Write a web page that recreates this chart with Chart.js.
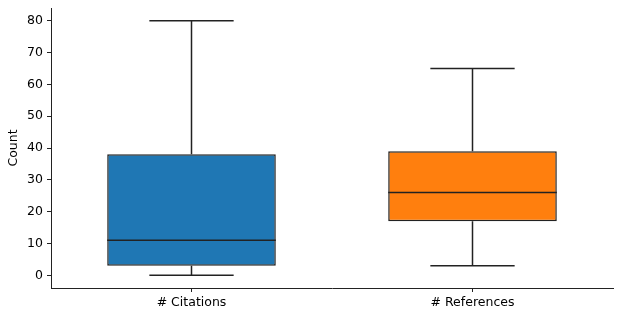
<!DOCTYPE html>
<html>
<head>
<meta charset="utf-8">
<script src="https://cdn.jsdelivr.net/npm/chart.js@4.4.0/dist/chart.umd.min.js"></script>
<style>
  html, body { margin: 0; padding: 0; background: #fff; }
  #box_canvas_wrap { width: 623px; height: 319px; }
</style>
</head>
<body>
<div id="box_canvas_wrap"><canvas id="box_canvas" width="623" height="319"></canvas></div>
<script>
// data
const categories = ["# Citations", "# References"];
const whiskerLow = [0, 3];
const q1 = [3, 17];
const median = [11, 26];
const q3 = [38, 39];
const whiskerHigh = [80, 65];
const boxColors = ["#1f77b4", "#ff7f0e"];
const yTicks = [0, 10, 20, 30, 40, 50, 60, 70, 80];

const lineColor = "#222";

// whiskers + median lines, drawn from the scales
const boxPlotLines = {
  id: 'boxPlotLines',
  afterDatasetsDraw(chart) {
    const ctx = chart.ctx;
    const y = chart.scales.y;
    const meta = chart.getDatasetMeta(0);
    ctx.save();
    ctx.strokeStyle = lineColor;
    ctx.lineWidth = 1.5;
    meta.data.forEach(function (bar, i) {
      const cx = bar.x;
      const half = bar.width / 2;
      const capHalf = half / 2;
      ctx.beginPath();
      // upper whisker
      ctx.moveTo(cx, y.getPixelForValue(q3[i]));
      ctx.lineTo(cx, y.getPixelForValue(whiskerHigh[i]));
      ctx.moveTo(cx - capHalf, y.getPixelForValue(whiskerHigh[i]));
      ctx.lineTo(cx + capHalf, y.getPixelForValue(whiskerHigh[i]));
      // lower whisker
      ctx.moveTo(cx, y.getPixelForValue(q1[i]));
      ctx.lineTo(cx, y.getPixelForValue(whiskerLow[i]));
      ctx.moveTo(cx - capHalf, y.getPixelForValue(whiskerLow[i]));
      ctx.lineTo(cx + capHalf, y.getPixelForValue(whiskerLow[i]));
      // median
      ctx.moveTo(cx - half, y.getPixelForValue(median[i]));
      ctx.lineTo(cx + half, y.getPixelForValue(median[i]));
      ctx.stroke();
    });
    ctx.restore();
  }
};

const font = { family: "'DejaVu Sans', sans-serif", size: 12.5 };

const box_ctx = document.getElementById('box_canvas').getContext('2d');
const box_chart = new Chart(box_ctx, {
  type: 'bar',
  data: {
    labels: categories,
    datasets: [
      {
        data: categories.map((c, i) => [q1[i], q3[i]]),
        backgroundColor: boxColors,
        borderColor: lineColor,
        borderWidth: 1.5,
        borderSkipped: false,
        barPercentage: 0.6,
        categoryPercentage: 1,
      },
    ],
  },
  options: {
    responsive: false,
    animation: false,
    layout: { padding: { top: 8, right: 10, left: 0, bottom: 0 } },
    plugins: {
      legend: { display: false },
      tooltip: { enabled: false },
    },
    scales: {
      x: {
        grid: { display: true, offset: false, drawOnChartArea: false, drawTicks: true, tickLength: 4, color: lineColor },
        border: { display: true, color: lineColor, width: 1 },
        ticks: { color: '#000', font: font, padding: 3, maxRotation: 0 },
        afterFit(scale) { scale.height = 31; },
      },
      y: {
        min: -4,
        max: 84,
        afterBuildTicks(scale) { scale.ticks = yTicks.map(v => ({ value: v })); },
        grid: { display: true, drawOnChartArea: false, drawTicks: true, tickLength: 4, color: lineColor },
        border: { display: true, color: lineColor, width: 1 },
        ticks: { color: '#000', font: font, padding: 4 },
        title: { display: true, text: 'Count', color: '#000', font: font, padding: { top: 6, bottom: 0 } },
        afterFit(scale) {
          scale.width = 51;
          scale.paddingTop = 0;
          scale.paddingBottom = 0;
        },
      },
    },
  },
  plugins: [boxPlotLines],
});
</script>
</body>
</html>
